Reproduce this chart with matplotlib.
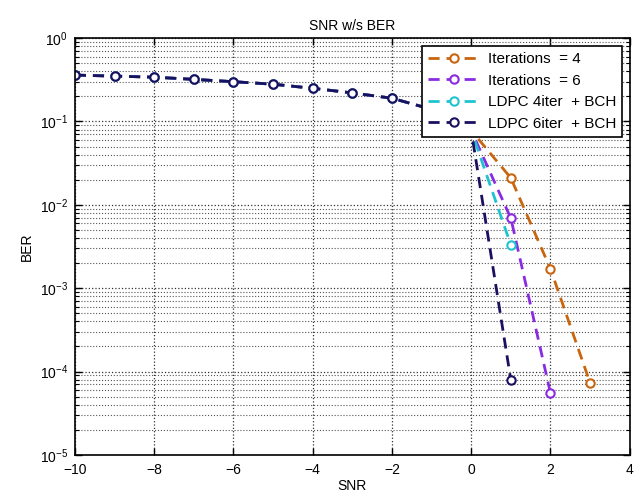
import matplotlib
matplotlib.use("Agg")
import matplotlib.pyplot as plt
import numpy as np
from matplotlib.ticker import LogLocator, NullFormatter

plt.rcParams['font.family'] = ['Liberation Sans', 'DejaVu Sans']
plt.rcParams['mathtext.fontset'] = 'custom'
plt.rcParams['mathtext.rm'] = 'Liberation Sans'
plt.rcParams['mathtext.it'] = 'Liberation Sans'

# Shared part of the curves (SNR -10 .. 0)
snr_common = [-10, -9, -8, -7, -6, -5, -4, -3, -2, -1, 0]
ber_common = [0.36, 0.35, 0.34, 0.32, 0.30, 0.28, 0.25, 0.22, 0.19, 0.14, 0.078]

# Tails of each series
snr_iter4 = [1, 2, 3]
ber_iter4 = [0.021, 0.0017, 7.3e-5]
snr_iter6 = [1, 2]
ber_iter6 = [0.0069, 5.5e-5]
snr_ldpc4 = [1]
ber_ldpc4 = [0.0033]
snr_ldpc6 = [1]
ber_ldpc6 = [7.9e-5]

labels = ["Iterations  = 4", "Iterations  = 6", "LDPC 4iter  + BCH", "LDPC 6iter  + BCH"]
colors = ["#c8650f", "#8a2be2", "#1fc3d0", "#1a1060"]

series = [(snr_iter4, ber_iter4), (snr_iter6, ber_iter6),
          (snr_ldpc4, ber_ldpc4), (snr_ldpc6, ber_ldpc6)]

fig = plt.figure(figsize=(6.4, 4.95), dpi=100)
ax = fig.add_axes([0.117, 0.081, 0.867, 0.842])

for (sx, sy), lab, col in zip(series, labels, colors):
    x = snr_common + sx
    y = ber_common + sy
    ax.semilogy(x, y, linestyle='--', color=col, linewidth=2.0,
                marker='o', markersize=6, markerfacecolor='white',
                markeredgecolor=col, markeredgewidth=1.5, label=lab,
                dashes=(4, 2.5))

ax.set_xlim(-10, 4)
ax.set_ylim(1e-5, 1)
ax.set_xticks([-10, -8, -6, -4, -2, 0, 2, 4])
ax.yaxis.set_major_locator(LogLocator(base=10, numticks=10))
ax.yaxis.set_minor_locator(LogLocator(base=10, subs=np.arange(2, 10), numticks=10))
ax.yaxis.set_minor_formatter(NullFormatter())

ax.grid(True, which='major', axis='both', linestyle=':', color='#333333', linewidth=0.9)
ax.grid(True, which='minor', axis='y', linestyle=':', color='#555555', linewidth=0.8)

ax.tick_params(which='both', direction='in', top=True, right=True, labelsize=10)
ax.tick_params(axis='x', pad=6)
ax.tick_params(axis='y', pad=5)
ax.tick_params(which='major', length=5, width=1)
ax.tick_params(which='minor', length=3, width=0.8)
for s in ax.spines.values():
    s.set_linewidth(1.2)

ax.set_title("SNR w/s BER", fontsize=10, pad=6)
ax.set_xlabel("SNR", fontsize=10, labelpad=1)
ax.set_ylabel("BER", fontsize=10, labelpad=4)

leg = ax.legend(loc='upper right', fontsize=11, frameon=True, fancybox=False,
                edgecolor='black', framealpha=1, handlelength=3.4,
                borderaxespad=0.5, labelspacing=0.5, handletextpad=0.5)
leg.get_frame().set_linewidth(1.2)

fig.savefig("out.png", dpi=100)
